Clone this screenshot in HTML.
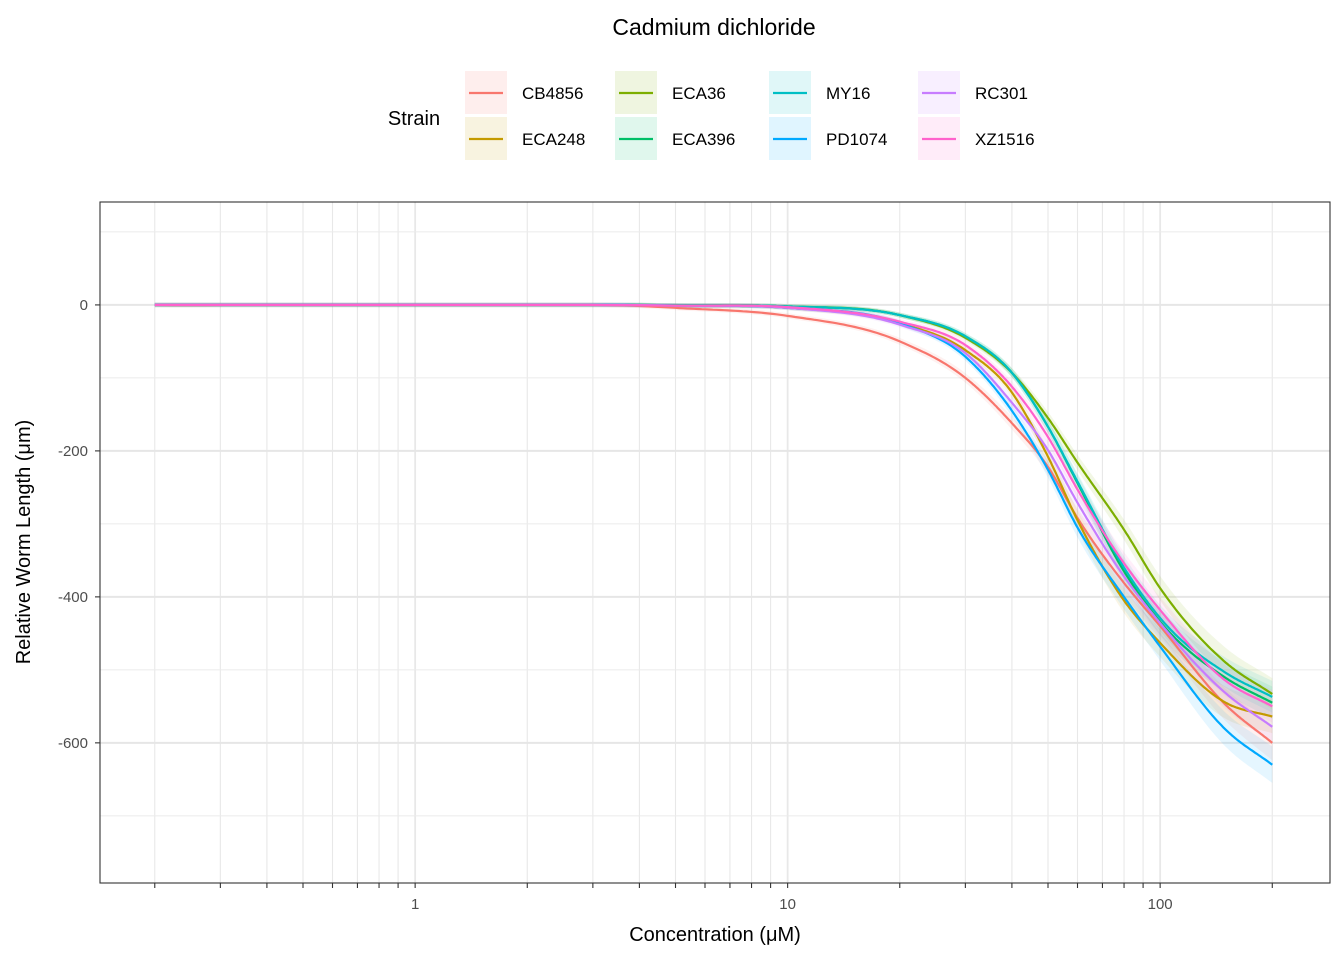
<!DOCTYPE html>
<html><head><meta charset="utf-8"><style>
body{margin:0;background:#fff;}
svg{font-family:"Liberation Sans",Arial,sans-serif;}
</style></head><body>
<svg id="chart" width="1344" height="960" viewBox="0 0 1344 960">
<text x="714" y="35" text-anchor="middle" font-size="23">Cadmium dichloride</text>
<g id="legend">
<text x="414" y="125" text-anchor="middle" font-size="20">Strain</text>
</g>
<rect x="100" y="202" width="1230" height="681" fill="#fff"/>
<g id="grid"></g>
<g id="ribbons"></g>
<g id="lines"></g>
<rect x="100" y="202" width="1230" height="681" fill="none" stroke="#333" stroke-width="1.1"/>
<g id="axes"></g>
<text x="715" y="941" text-anchor="middle" font-size="20">Concentration (μM)</text>
<text transform="translate(30,542) rotate(-90)" text-anchor="middle" font-size="20">Relative Worm Length (μm)</text>
</svg>
<script>
const strains = ["CB4856","ECA248","ECA36","ECA396","MY16","PD1074","RC301","XZ1516"];
const colors = ["#F8766D","#C49A00","#7CAE00","#00BE67","#00BFC4","#00A9FF","#C77CFF","#FF61CC"];
const conc = [0.2, 5, 10, 20, 30, 40, 50, 60, 80, 100, 150, 200];
const valCB4856 = [0, -4, -15, -50, -100, -162, -222, -292, -381, -440, -548, -600];
const valECA248 = [0, -1, -4, -25, -62, -120, -208, -295, -405, -463, -545, -564];
const valECA36  = [0, -0.5, -2, -14, -45, -93, -155, -216, -308, -388, -490, -533];
const valECA396 = [0, -0.5, -2, -14, -43, -93, -167, -244, -365, -434, -511, -545];
const valMY16   = [0, -0.5, -2, -14, -43, -93, -167, -242, -360, -429, -504, -537];
const valPD1074 = [0, -1, -4, -25, -71, -145, -226, -305, -400, -468, -582, -630];
const valRC301  = [0, -1, -4, -27, -66, -134, -199, -271, -372, -436, -532, -578];
const valXZ1516 = [0, -1, -3, -23, -55, -112, -181, -253, -354, -418, -515, -550];
const series = [valCB4856,valECA248,valECA36,valECA396,valMY16,valPD1074,valRC301,valXZ1516];
const yTicks = [0,-200,-400,-600];
const yMinor = [100,-100,-300,-500,-700];
const xTickLabels = [1,10,100];

const NS="http://www.w3.org/2000/svg";
const X0=100,X1=1330,Y0=202,Y1=883;
const LMIN=-0.846,LMAX=2.456, VMAX=141, VMIN=-792;
const xs=c=>X0+(Math.log10(c)-LMIN)/(LMAX-LMIN)*(X1-X0);
const ys=v=>Y0+(VMAX-v)/(VMAX-VMIN)*(Y1-Y0);
function mk(tag,attrs,parent){const e=document.createElementNS(NS,tag);for(const k in attrs)e.setAttribute(k,attrs[k]);parent.appendChild(e);return e;}

const grid=document.getElementById('grid');
const minorX=[];
for(let d=-1;d<=2;d++)for(let m=1;m<=9;m++){const c=m*Math.pow(10,d);const l=Math.log10(c);if(l>LMIN&&l<LMAX)minorX.push(c);}
minorX.forEach(c=>{const major=xTickLabels.includes(c);
 const ln=mk('line',{x1:xs(c),x2:xs(c),y1:Y0,y2:Y1,stroke:'#e8e8e8','stroke-width':major?1.8:1.1},grid);
 
 });
yMinor.forEach(v=>{const ln=mk('line',{x1:X0,x2:X1,y1:ys(v),y2:ys(v),stroke:'#ebebeb','stroke-width':1},grid);
 
 });
yTicks.forEach(v=>{const ln=mk('line',{x1:X0,x2:X1,y1:ys(v),y2:ys(v),stroke:'#e6e6e6','stroke-width':2},grid);
 
 });

const axes=document.getElementById('axes');
yTicks.forEach(v=>{const t=mk('line',{x1:95,x2:100,y1:ys(v),y2:ys(v),stroke:'#333','stroke-width':1.1},axes);
 
 
 const tx=mk('text',{x:88,y:ys(v)+5,'text-anchor':'end','font-size':15,fill:'#4d4d4d'},axes);tx.textContent=v;
 
 });
minorX.forEach(c=>{const t=mk('line',{x1:xs(c),x2:xs(c),y1:883,y2:888,stroke:'#333','stroke-width':1.1},axes);
 
 });
xTickLabels.forEach(c=>{const tx=mk('text',{x:xs(c),y:909,'text-anchor':'middle','font-size':15,fill:'#4d4d4d'},axes);tx.textContent=c;
 
 });

function dense(vals){
 const xl=conc.map(c=>Math.log10(c)),n=xl.length;
 const d=[],m=[];for(let i=0;i<n-1;i++)d.push((vals[i+1]-vals[i])/(xl[i+1]-xl[i]));
 m[0]=d[0];m[n-1]=d[n-2];
 for(let i=1;i<n-1;i++){
  if(d[i-1]*d[i]<=0){m[i]=0;continue;}
  const w1=xl[i+1]-xl[i],w0=xl[i]-xl[i-1];
  m[i]=(d[i-1]*w1+d[i]*w0)/(w0+w1);}
 const pts=[];
 for(let i=0;i<n-1;i++){const h=xl[i+1]-xl[i];const steps=30;
  for(let s=0;s<steps;s++){const t=s/steps,t2=t*t,t3=t2*t;
   const v=(2*t3-3*t2+1)*vals[i]+(t3-2*t2+t)*h*m[i]+(-2*t3+3*t2)*vals[i+1]+(t3-t2)*h*m[i+1];
   pts.push([xl[i]+t*h,Math.min(0,v)]);}}
 pts.push([xl[n-1],vals[n-1]]);return pts;}
const X=l=>X0+(l-LMIN)/(LMAX-LMIN)*(X1-X0);
const rib=document.getElementById('ribbons'),lines=document.getElementById('lines');
series.forEach((vals,i)=>{const pts=dense(vals);
 const up=pts.map(p=>[X(p[0]),ys(p[1]+3+0.035*Math.abs(p[1]))]);
 const dn=pts.map(p=>[X(p[0]),ys(p[1]-3-0.035*Math.abs(p[1]))]).reverse();
 const r=mk('path',{d:'M'+up.concat(dn).map(p=>p[0].toFixed(1)+','+p[1].toFixed(1)).join('L')+'Z',fill:colors[i],'fill-opacity':0.1},rib);
 
 
 const l=mk('path',{d:'M'+pts.map(p=>X(p[0]).toFixed(1)+','+ys(p[1]).toFixed(1)).join('L'),fill:'none',stroke:colors[i],'stroke-width':2.2},lines);
 
 });

const leg=document.getElementById('legend');
const colX=[465,615,769,918];
strains.forEach((s,i)=>{const col=Math.floor(i/2),row=i%2;const kx=colX[col],ky=71+row*46;
 const g=mk('g',{},leg);
 
 
 mk('rect',{x:kx,y:ky,width:42,height:43,fill:colors[i],'fill-opacity':0.12},g);
 mk('line',{x1:kx+4,x2:kx+38,y1:ky+22,y2:ky+22,stroke:colors[i],'stroke-width':2.2},g);
 const t=mk('text',{x:kx+57,y:ky+28,'font-size':17},g);t.textContent=s;});
</script>
</body></html>
